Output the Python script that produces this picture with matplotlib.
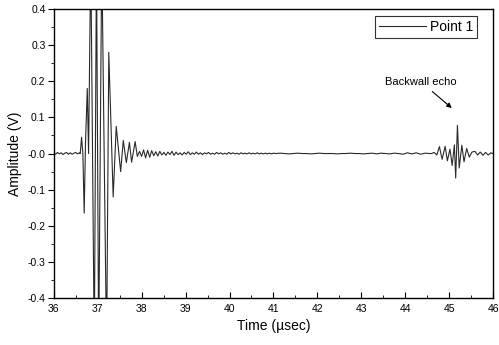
import matplotlib
matplotlib.use("Agg")
import matplotlib.pyplot as plt
import numpy as np
from matplotlib.ticker import MultipleLocator

plt.rcParams['font.family'] = ['Liberation Sans', 'DejaVu Sans']

# bruit avant l'impulsion (36.0 -> 36.58)
pre_v = [0.002, -0.002, 0.003, -0.001, 0.002, -0.003, 0.001, 0.003, -0.002, 0.002,
         -0.002, 0.001, 0.003, -0.001, 0.002]

# impulsion principale
burst_t = [36.60, 36.63, 36.66, 36.69, 36.72, 36.76, 36.79, 36.84, 36.92, 36.97,
           37.02, 37.09, 37.20, 37.25, 37.35, 37.42, 37.52, 37.58, 37.65, 37.72,
           37.77, 37.85, 37.90]
burst_v = [0.0, 0.045, 0.0, -0.165, 0.03, 0.18, 0.0, 0.55, -0.55, 0.55,
           -0.55, 0.55, -0.55, 0.28, -0.12, 0.075, -0.05, 0.036, -0.025, 0.031,
           -0.024, 0.033, -0.008]

# bruit de queue (37.95 -> 41.0)
tail_v = [0.006, -0.008, 0.010, -0.012, 0.009, -0.010, 0.008, -0.006, 0.005, -0.007,
          0.006, -0.004, 0.003, -0.005, 0.004, -0.003, 0.006, -0.005, 0.004, -0.003,
          0.002, -0.004, 0.003, -0.002, 0.005, -0.003, 0.002, -0.002, 0.004, -0.002,
          0.002, -0.003, 0.002, -0.001, 0.003, -0.002, 0.001, -0.002, 0.003, -0.001,
          0.002, -0.002, 0.001, -0.002, 0.003, -0.001, 0.002, -0.001, 0.001, -0.002,
          0.002, -0.001, 0.001, -0.001, 0.002, -0.001, 0.001, -0.001, 0.002, -0.001,
          0.001, -0.001, 0.001, -0.001, 0.001, -0.001, 0.001]

# zone calme (41.05 -> 44.55)
quiet_v = [0.0, 0.001, 0.0, -0.001, 0.0, 0.001, 0.0, 0.0, -0.001, 0.0,
           0.001, 0.0, 0.0, 0.0, -0.001, 0.0, 0.0, 0.001, 0.0, 0.0,
           -0.001, 0.0, 0.001, -0.001, 0.001, 0.0, -0.001, 0.001, 0.0, -0.002,
           0.002, -0.001, 0.002, -0.002, 0.001, 0.0]

# écho de fond
echo_t = [44.60, 44.66, 44.72, 44.78, 44.84, 44.91, 44.96, 45.02, 45.07, 45.12,
          45.15, 45.19, 45.23, 45.29, 45.34, 45.40, 45.46, 45.52, 45.59, 45.65,
          45.71, 45.77, 45.83, 45.89, 45.95, 46.0]
echo_v = [0.0, 0.003, -0.004, 0.019, -0.016, 0.02, -0.02, 0.012, -0.033, 0.024,
          -0.068, 0.078, -0.04, 0.023, -0.023, 0.014, -0.01, 0.004, 0.006, -0.004,
          0.004, -0.005, 0.003, -0.004, 0.002, 0.0]

# grilles d'échantillonnage
pre_t = np.linspace(36.0, 36.58, len(pre_v))
tail_t = np.linspace(37.95, 41.0, len(tail_v))
quiet_t = np.linspace(41.05, 44.55, len(quiet_v))

t = np.concatenate([pre_t, burst_t, tail_t, quiet_t, echo_t])
v = np.concatenate([pre_v, burst_v, tail_v, quiet_v, echo_v])

fig = plt.figure(figsize=(4.99, 3.45), dpi=100)
ax = fig.add_axes([0.108, 0.136, 0.88, 0.838])

ax.plot(t, v, color="#2a2a2a", lw=0.8, label="Point 1")

ax.set_xlim(36, 46)
ax.set_ylim(-0.4, 0.4)
ax.xaxis.set_major_locator(MultipleLocator(1))
ax.xaxis.set_minor_locator(MultipleLocator(0.5))
ax.yaxis.set_major_locator(MultipleLocator(0.1))
ax.yaxis.set_minor_locator(MultipleLocator(0.05))
ax.set_yticks(np.arange(-0.4, 0.41, 0.1))
ax.set_yticklabels(["%.1f" % y for y in np.arange(-0.4, 0.41, 0.1)])

ax.tick_params(axis="x", which="major", direction="in", length=4, labelsize=7.5, pad=4)
ax.tick_params(axis="x", which="minor", direction="in", length=2)
ax.tick_params(axis="y", which="major", direction="out", length=4, labelsize=7.5, pad=2)
ax.tick_params(axis="y", which="minor", direction="out", length=2)
for s in ax.spines.values():
    s.set_linewidth(1.0)

ax.set_xlabel("Time (\u00b5sec)", fontsize=10, labelpad=4)
ax.set_ylabel("Amplitude (V)", fontsize=10, labelpad=4)

leg = ax.legend(loc="upper right", bbox_to_anchor=(0.964, 0.976), borderaxespad=0,
                fontsize=10, frameon=True, fancybox=False, handlelength=3.4,
                handletextpad=0.25, borderpad=0.3)
leg.get_frame().set_edgecolor("black")
leg.get_frame().set_linewidth(0.8)

ax.annotate("Backwall echo", xy=(45.06, 0.126), xytext=(44.36, 0.198),
            fontsize=8, ha="center", va="center",
            arrowprops=dict(arrowstyle="-|>", color="black", lw=0.8,
                            mutation_scale=7, shrinkA=2, shrinkB=0))

fig.savefig("out.png", dpi=100)
